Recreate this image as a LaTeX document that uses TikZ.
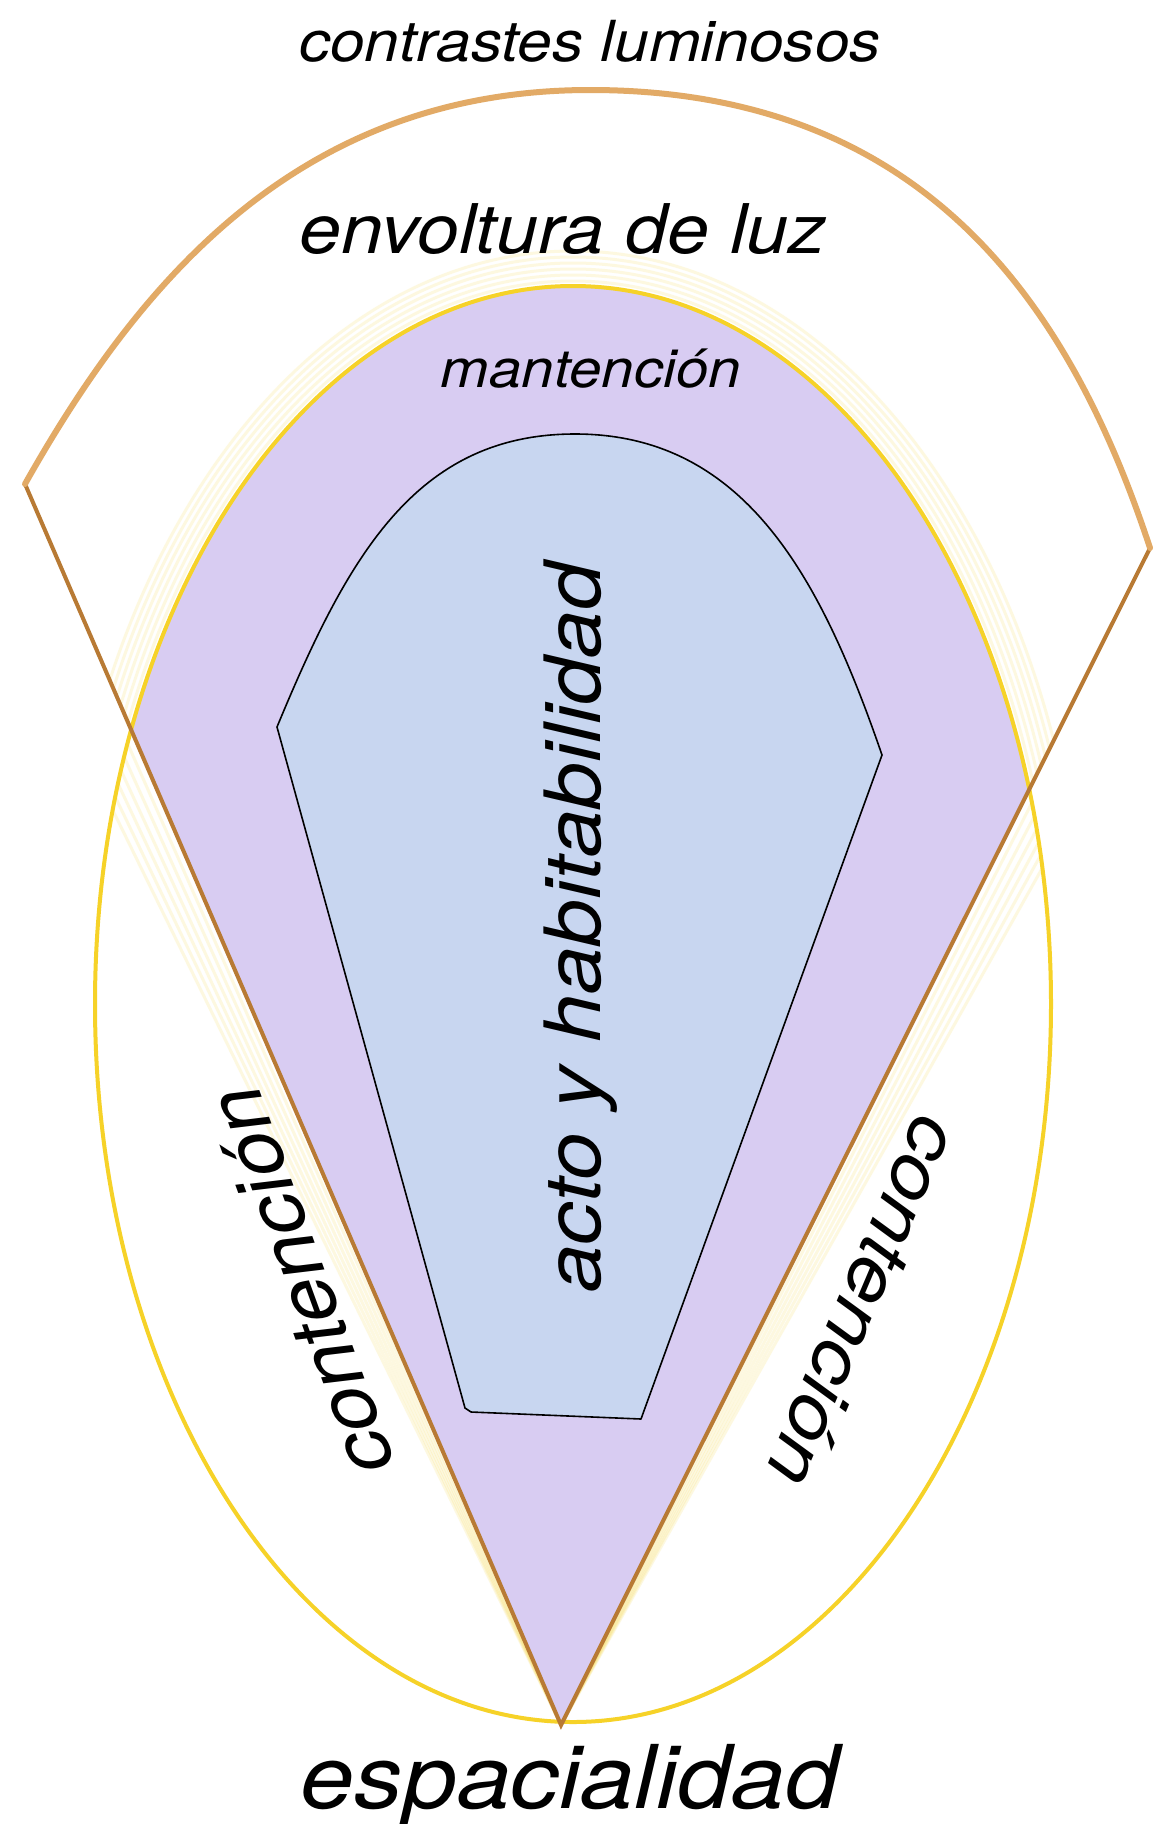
\documentclass[tikz,border=0pt]{standalone}
\usepackage{fontspec}
\setmainfont{TeX Gyre Heros}
\definecolor{arcorange}{RGB}{226,170,102}
\definecolor{linebrown}{RGB}{184,122,52}
\definecolor{glowyellow}{RGB}{246,210,40}
\definecolor{lavender}{RGB}{216,204,242}
\definecolor{paleblue}{RGB}{200,214,240}
\newcommand\txtfont[1]{\fontsize{#1bp}{#1bp}\selectfont\itshape}
\tikzset{
  lab/.style={inner sep=0pt, outer sep=0pt, text=black, anchor=base},
  glowline/.style={draw=glowyellow, line width=3bp, opacity=0.14},
  ellipsestroke/.style={draw=glowyellow, line width=4bp},
  wedgeline/.style={draw=linebrown, line width=4bp, line join=miter},
  outerarc/.style={draw=arcorange, line width=6bp, line cap=round},
  corebox/.style={fill=paleblue, draw=black, line width=1.6bp, line join=round}
}
\begin{document}
\begin{tikzpicture}[x=1bp,y=-1bp]
\useasboundingbox (0,0) rectangle (1153,1824);
\fill[white] (0,0) rectangle (1153,1824);
\coordinate (T) at (561,1725);
\coordinate (L) at (25,484);
\coordinate (R) at (1150,548);
\coordinate (C) at (573,1004);

% glow above the yellow arc, inside the fan
\begin{scope}
  \clip (T) -- (-184,0) -- (1422,0) -- cycle;
  \foreach \d in {5,11,...,35}
    \draw[glowline] (C) ellipse [x radius=478+\d, y radius=718+\d];
\end{scope}
% glow along the wedge lines, outside the wedge
\begin{scope}
  \clip (C) ellipse [x radius=478, y radius=718];
  \foreach \k in {1,...,6} {
    \draw[glowline] (T) -- ({25-12*\k},484);
    \draw[glowline] (T) -- ({1150+12*\k},548);
  }
\end{scope}

% lavender zone
\begin{scope}
  \clip (T) -- (-184,0) -- (1422,0) -- cycle;
  \fill[lavender] (C) ellipse [x radius=478, y radius=718];
\end{scope}

% yellow ellipse
\draw[ellipsestroke] (C) ellipse [x radius=478, y radius=718];

% inner blue shape
\draw[corebox] (277,727) .. controls (347,558) and (415,434) .. (575,434)
  .. controls (745,434) and (821,578) .. (882,755)
  -- (641,1419) -- (471,1412) -- (465,1408) -- cycle;

% wedge lines
\draw[wedgeline] (L) -- (T) -- (R);
% outer arc
\draw[outerarc] (L) .. controls (140,280) and (300,90) .. (590,90)
  .. controls (925,90) and (1070,305) .. (R);

% labels
\node[lab, font=\txtfont{56.6}] (contrastes) at (590,61) {\scalebox{1.1}[1]{contrastes luminosos}};
\node[lab, font=\txtfont{68.5}] (envoltura) at (563,253) {\scalebox{1.1}[1]{envoltura de luz}};
\node[lab, font=\txtfont{53}] (mantencion) at (591,387) {\scalebox{1.1}[1]{mantención}};
\node[lab, font=\txtfont{88}] (espacialidad) at (570,1808) {\scalebox{1.1}[1]{espacialidad}};
\node[lab, rotate=90, font=\txtfont{77.7}] (acto) at (600,928) {\scalebox{1.1}[1]{acto y habitabilidad}};
\node[lab, rotate=110, font=\txtfont{77}] (contL) at (326,1273) {\scalebox{1.1}[1]{contención}};
\node[lab, rotate=-113, font=\txtfont{74}] (contR) at (841,1292) {\scalebox{1.1}[1]{contención}};
\end{tikzpicture}
\end{document}
